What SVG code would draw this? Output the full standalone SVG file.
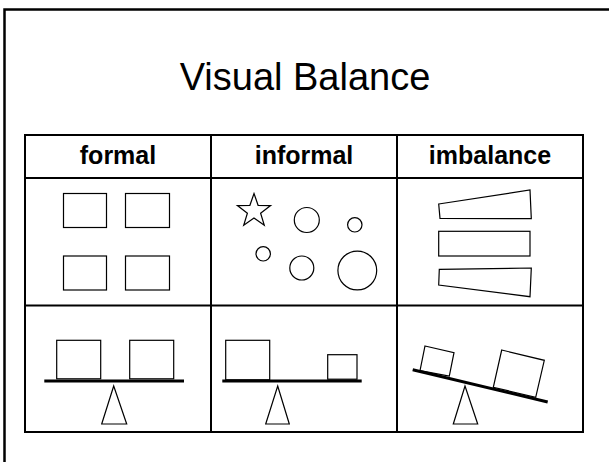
<svg xmlns="http://www.w3.org/2000/svg" width="609" height="462" viewBox="0 0 609 462">
<style>
.frame{fill:none;stroke:#000;stroke-width:2.5}
.grid{fill:none;stroke:#000;stroke-width:2}
.shape{fill:#fff;stroke:#000;stroke-width:1.2}
.beam{stroke:#000;stroke-width:3;fill:none}
.title{font-family:"Liberation Sans",Arial,sans-serif;font-size:38px;fill:#000}
.head{font-family:"Liberation Sans",Arial,sans-serif;font-size:25px;font-weight:bold;fill:#000}
</style>
<rect width="609" height="462" fill="#fff"/>
<rect id="frame" class="frame" x="4.5" y="9.5" width="620" height="470"/>
<g id="title"><text class="title" x="305" y="90" text-anchor="middle">Visual Balance</text></g>
<g id="table">
<rect class="grid" x="25" y="135" width="558" height="297"/>
<line class="grid" x1="25" y1="178" x2="583" y2="178"/>
<line class="grid" x1="25" y1="305.5" x2="583" y2="305.5"/>
<line class="grid" x1="211" y1="135" x2="211" y2="432"/>
<line class="grid" x1="397" y1="135" x2="397" y2="432"/>
</g>
<g id="headers">
<text class="head" x="118" y="163.5" text-anchor="middle">formal</text>
<text class="head" x="304" y="163.5" text-anchor="middle">informal</text>
<text class="head" x="490" y="163.5" text-anchor="middle">imbalance</text>
</g>
<g id="formal-shapes">
<rect class="shape" x="63.5" y="193.5" width="43" height="34"/>
<rect class="shape" x="125.5" y="193.5" width="44" height="34"/>
<rect class="shape" x="63.5" y="256" width="43" height="34"/>
<rect class="shape" x="125.5" y="256" width="44" height="34"/>
</g>
<g id="informal-shapes">
<polygon class="shape" points="254,193.5 258.1,205.3 270.6,205.6 260.6,213.2 264.3,225.2 254,218.1 243.7,225.2 247.4,213.2 237.4,205.6 249.9,205.3"/>
<circle class="shape" cx="306.8" cy="220" r="12.5"/>
<circle class="shape" cx="354.8" cy="224.8" r="7.2"/>
<circle class="shape" cx="263.2" cy="253.8" r="7.2"/>
<circle class="shape" cx="301.8" cy="268" r="12"/>
<circle class="shape" cx="357.3" cy="270.5" r="19.4"/>
</g>
<g id="imbalance-shapes">
<polygon class="shape" points="438.7,204 530,190 531.3,218.7 440,218.3"/>
<rect class="shape" x="438.7" y="231.3" width="91.3" height="24.7"/>
<polygon class="shape" points="439.3,269.3 531.3,268 530,296.7 438.7,285"/>
</g>
<g id="formal-scale">
<rect class="shape" x="56.7" y="340.3" width="44" height="38.5"/>
<rect class="shape" x="129.7" y="340.3" width="44" height="38.5"/>
<line class="beam" x1="44.3" y1="381" x2="184" y2="381"/>
<polygon class="shape" points="113.7,386 126.7,424 101.7,424"/>
</g>
<g id="informal-scale">
<rect class="shape" x="225.7" y="340.3" width="44" height="39.5"/>
<rect class="shape" x="327.7" y="354.7" width="29.3" height="24.5"/>
<line class="beam" x1="222.3" y1="381" x2="361.7" y2="381"/>
<polygon class="shape" points="277.7,386 289.3,424 265.7,424"/>
</g>
<g id="imbalance-scale">
<polygon class="shape" points="425,346 454,352.7 449.3,376 420,370.7"/>
<polygon class="shape" points="501.7,350 544.3,360.3 535.7,397.3 493.3,387.3"/>
<line class="beam" x1="412.7" y1="369.7" x2="547.7" y2="402"/>
<polygon class="shape" points="465,386 477.7,424 453.3,424"/>
</g>
</svg>
